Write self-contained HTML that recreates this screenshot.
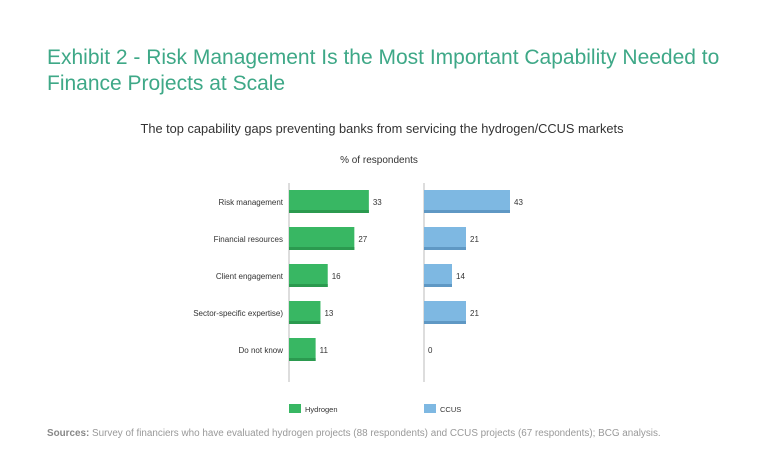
<!DOCTYPE html>
<html><head><meta charset="utf-8"><style>
body{margin:0;background:#fff;width:768px;height:466px;overflow:hidden;font-family:"Liberation Sans",sans-serif;}
.t{position:absolute;left:47px;color:#3ea887;font-size:21px;white-space:nowrap;}
</style></head><body>
<div class="t" style="top:46px;">Exhibit 2 - Risk Management Is the Most Important Capability Needed to</div>
<div class="t" style="top:72px">Finance Projects at Scale</div>
<div style="position:absolute;top:121px;left:0;width:764px;text-align:center;font-size:12.8px;color:#333;">The top capability gaps preventing banks from servicing the hydrogen/CCUS markets</div>
<div style="position:absolute;top:155px;left:0;width:758px;text-align:center;font-size:10px;color:#333;">% of respondents</div>
<svg id="chart" width="768" height="466" style="position:absolute;left:0;top:0"></svg>
<div style="position:absolute;top:428px;left:47px;font-size:9.9px;color:#999;white-space:nowrap;"><b style="color:#888">Sources:</b> Survey of financiers who have evaluated hydrogen projects (88 respondents) and CCUS projects (67 respondents); BCG analysis.</div>
<script>
const categories=["Risk management","Financial resources","Client engagement","Sector-specific expertise)","Do not know"];
const hydrogen=[33,27,16,13,11];
const ccus=[43,21,14,21,0];
const svg=document.getElementById('chart');
const NS='http://www.w3.org/2000/svg';
function mk(t,a){const e=document.createElementNS(NS,t);for(const k in a)e.setAttribute(k,a[k]);svg.appendChild(e);return e;}
const rowY=i=>202+i*37;
const xH=v=>289+v*2.42;
const xC=v=>424+v*2.0;
let ax=mk('line',{x1:289,x2:289,y1:183,y2:382,stroke:'#ddd','stroke-width':2});

ax=mk('line',{x1:424,x2:424,y1:183,y2:382,stroke:'#ddd','stroke-width':2});

function bar(x0,xf,v,i,c,dc,name){
  const y=rowY(i);
  if(v>0){
    let r=mk('rect',{x:x0,y:y-12,width:xf(v)-x0,height:23,fill:c});
    
    let s=mk('rect',{x:x0,y:y+8,width:xf(v)-x0,height:3,fill:dc});
    
  }
  let t=mk('text',{x:xf(v)+4,y:y+3,'font-size':8,fill:'#333','font-family':'Liberation Sans'});
  t.textContent=v;
}
categories.forEach((c,i)=>{
  let t=mk('text',{x:283,y:rowY(i)+3,'font-size':8,fill:'#333','text-anchor':'end','font-family':'Liberation Sans'});
  t.textContent=c;
  bar(289,xH,hydrogen[i],i,'#38b763','#2b9a4f','hydrogen');
  bar(424,xC,ccus[i],i,'#7eb8e2','#5f98c4','ccus');
});
let l=mk('rect',{x:289,y:404,width:12,height:9,fill:'#38b763'});

let lt=mk('text',{x:305,y:412,'font-size':7.5,fill:'#333','font-family':'Liberation Sans'});lt.textContent='Hydrogen';

l=mk('rect',{x:424,y:404,width:12,height:9,fill:'#7eb8e2'});

lt=mk('text',{x:440,y:412,'font-size':7.5,fill:'#333','font-family':'Liberation Sans'});lt.textContent='CCUS';

</script>
</body></html>
